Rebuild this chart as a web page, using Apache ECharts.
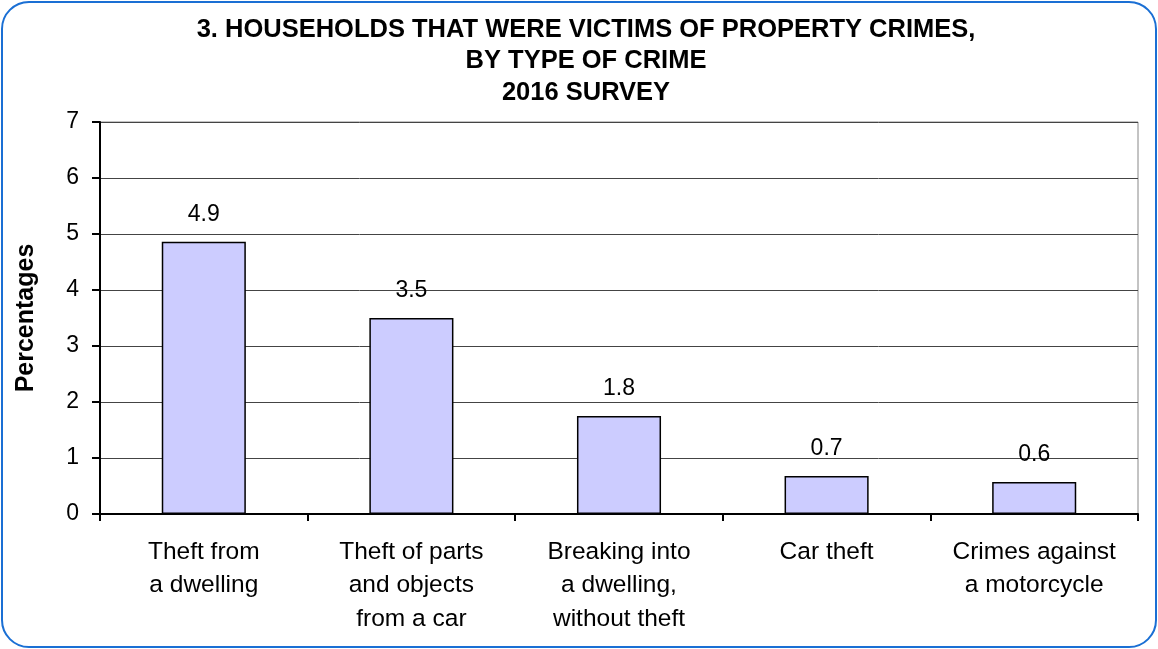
<!DOCTYPE html>
<html>
<head>
<meta charset="utf-8">
<script src="https://cdn.jsdelivr.net/npm/echarts@6/dist/echarts.min.js"></script>
<style>
  html, body { margin: 0; padding: 0; background: #fff; }
  #frame {
    position: absolute; left: 1px; top: 1px; width: 1152px; height: 643px;
    border: 2px solid #1a6fd4; border-radius: 28px; box-sizing: content-box;
  }
  #chart { position: absolute; left: 0; top: 0; width: 1158px; height: 649px; }
</style>
</head>
<body>
<div id="frame"></div>
<div id="chart"></div>
<script>
// 类别与数值
const categories = [
  'Theft from\na dwelling',
  'Theft of parts\nand objects\nfrom a car',
  'Breaking into\na dwelling,\nwithout theft',
  'Car theft',
  'Crimes against\na motorcycle'
]
const values = [4.86, 3.5, 1.75, 0.68, 0.57]
const valueLabels = ['4.9', '3.5', '1.8', '0.7', '0.6']

const chart = echarts.init(document.getElementById('chart'))
chart.setOption({
  animation: false,
  textStyle: { fontFamily: 'Liberation Sans, Arial, sans-serif' },
  title: {
    text: '3. HOUSEHOLDS THAT WERE VICTIMS OF PROPERTY CRIMES,\nBY TYPE OF CRIME\n2016 SURVEY',
    left: 581, top: 9, textAlign: 'center',
    textStyle: { fontSize: 25.5, fontWeight: 'bold', color: '#000', lineHeight: 31.5 }
  },
  grid: { left: 100, right: 20, top: 122, bottom: 135, show: true, borderColor: '#888', borderWidth: 1 },
  xAxis: {
    type: 'category',
    data: categories,
    axisLine: { lineStyle: { color: '#000', width: 2 } },
    axisTick: { show: true, length: 7, lineStyle: { color: '#000', width: 2 } },
    axisLabel: { fontSize: 24.5, color: '#000', lineHeight: 33.5, margin: 21, interval: 0 }
  },
  yAxis: {
    type: 'value',
    min: 0, max: 7, interval: 1,
    name: 'Percentages',
    nameLocation: 'middle',
    nameGap: 61,
    nameTextStyle: { fontSize: 25, fontWeight: 'bold', color: '#000' },
    axisLine: { show: true, lineStyle: { color: '#000', width: 2 } },
    axisTick: { show: true, length: 8, lineStyle: { color: '#000', width: 2 } },
    axisLabel: { fontSize: 23, color: '#000', margin: 21 },
    splitLine: { lineStyle: { color: '#444', width: 1 } }
  },
  series: [{
    type: 'bar',
    data: values,
    barWidth: '40.5%',
    itemStyle: { color: '#ccccff', borderColor: '#000', borderWidth: 1.5 },
    label: {
      show: true, position: 'top', distance: 16,
      fontSize: 23, color: '#000',
      formatter: p => valueLabels[p.dataIndex]
    }
  }]
})
</script>
</body>
</html>
